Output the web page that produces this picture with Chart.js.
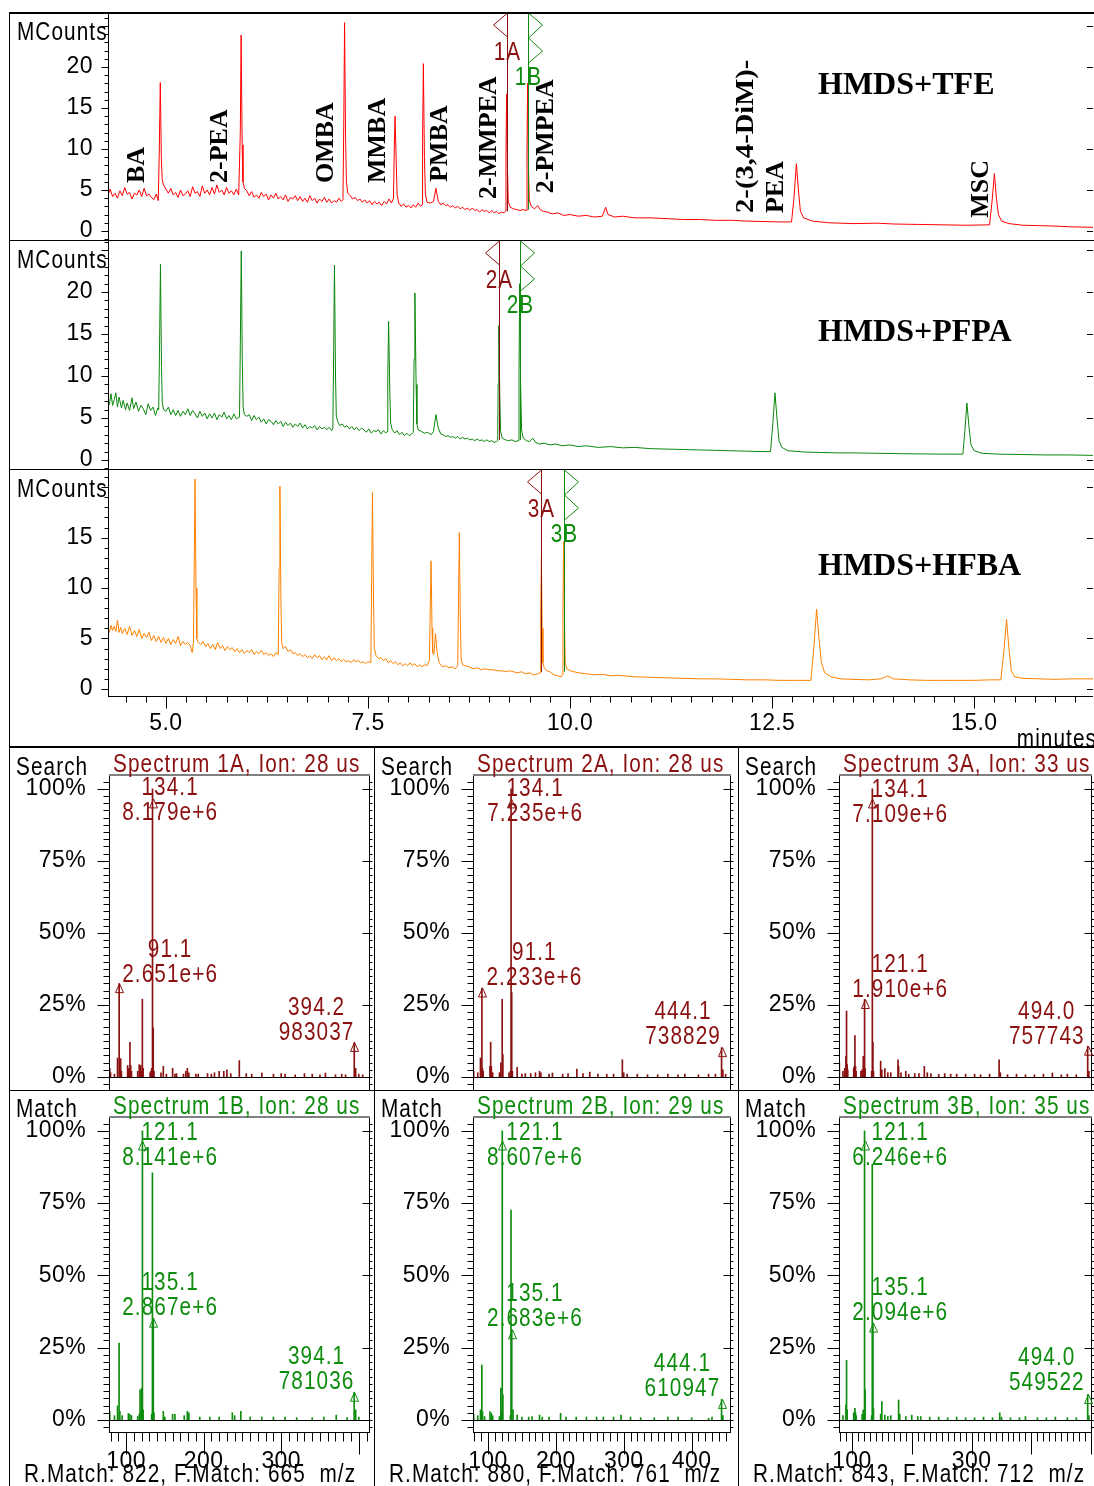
<!DOCTYPE html>
<html>
<head>
<meta charset="utf-8">
<title>HMDS derivatives - chromatograms and spectra</title>
<script src="https://cdn.jsdelivr.net/npm/chart.js@4.4.1/dist/chart.umd.min.js"></script>
<style>
  html, body { margin: 0; padding: 0; background: #fff; overflow: hidden; }
  #lienzo { position: relative; width: 1094px; height: 1486px; }
  #lienzo canvas { position: absolute; left: 0; top: 0; }
  .raya { position: absolute; background: #000; }
</style>
</head>
<body>
<div id="lienzo"></div>
<script>
const PAGE_W = 1094;
const PAGE_H = 1486;
const SANS = '"Liberation Sans", Arial, sans-serif';
const SERIF = '"Liberation Serif", "DejaVu Serif", serif';
const DARK_RED = '#8b1010';
const DARK_GREEN = '#0e8c0e';

// ---- chromatograms: [minutes, MCounts] ----
const timeMin = 4.283;
const timeMax = 16.47;
const timeTicks = [5.0, 7.5, 10.0, 12.5, 15.0];

const tfeTrace = [
  [4.28,4.3],[4.31,5.1],[4.34,4.2],[4.37,4.6],[4.40,4.0],[4.43,4.9],[4.46,4.3],[4.49,5.3],[4.52,4.5],[4.55,4.7],[4.58,3.9],[4.61,4.6],[4.64,4.4],[4.67,5.0],[4.70,4.2],[4.73,5.2],[4.76,4.3],[4.79,4.5],[4.82,4.1],[4.85,3.8],[4.88,4.5],[4.905,3.7],
  [4.917,9.5],[4.93,18.1],[4.943,9.0],[4.953,6.3],[4.97,5.6],[5.00,5.1],
  [5.03,4.6],[5.06,5.2],[5.09,4.4],[5.12,4.7],[5.15,4.1],[5.18,5.0],[5.21,4.3],[5.24,4.5],[5.27,4.9],[5.30,4.2],[5.33,5.4],[5.36,4.6],[5.39,4.8],[5.42,4.2],[5.45,5.5],[5.48,4.6],[5.51,5.0],[5.54,4.4],[5.57,5.3],[5.60,4.5],[5.63,5.6],[5.66,4.7],[5.69,5.0],[5.72,4.4],[5.75,5.3],[5.78,4.6],[5.81,4.9],[5.84,4.4],[5.87,5.1],[5.90,4.4],
  [5.92,12.0],[5.93,23.9],[5.943,10.5],[5.953,6.0],[5.97,5.2],[6.00,4.9],
  [6.03,4.3],[6.06,4.8],[6.09,4.1],[6.12,4.4],[6.15,4.0],[6.18,4.7],[6.21,4.2],[6.24,4.5],[6.27,3.8],[6.30,4.4],[6.33,4.0],[6.36,4.6],[6.39,3.9],[6.42,4.2],[6.45,3.8],[6.48,4.4],[6.51,3.6],[6.54,4.1],[6.57,3.9],[6.60,4.3],[6.63,3.7],[6.66,4.2],[6.69,3.6],[6.72,4.0],[6.75,3.5],[6.78,4.3],[6.81,3.7],[6.84,4.0],[6.87,3.4],[6.90,3.9],[6.93,3.6],[6.96,4.1],[6.99,3.5],[7.02,3.9],[7.05,3.4],[7.08,3.7],[7.11,3.5],[7.14,4.0],[7.17,3.6],[7.19,3.8],
  [7.20,13.0],[7.21,25.4],[7.223,11.0],[7.233,6.0],[7.25,4.6],[7.28,4.3],
  [7.31,3.9],[7.34,4.1],[7.37,3.7],[7.40,3.9],[7.43,3.5],[7.46,3.8],[7.49,3.4],[7.52,3.7],[7.55,3.2],[7.58,3.6],[7.61,3.3],[7.64,3.5],[7.67,3.1],[7.70,3.6],[7.73,3.3],[7.76,3.9],[7.79,3.4],[7.815,4.0],
  [7.825,10.0],[7.835,14.0],[7.85,8.0],[7.86,4.5],[7.88,3.4],[7.91,3.0],[7.94,3.3],[7.97,2.9],[8.00,3.1],[8.03,2.8],[8.06,3.2],[8.09,2.9],[8.12,3.4],[8.15,3.0],[8.17,3.2],
  [8.175,11.0],[8.185,20.4],[8.198,9.0],[8.21,4.5],[8.23,3.5],[8.27,3.4],[8.31,3.6],[8.34,5.2],[8.37,3.6],[8.40,3.2],[8.43,3.4],[8.46,3.1],[8.49,3.2],[8.52,2.9],[8.55,3.1],[8.58,2.8],[8.61,3.0],[8.64,2.7],[8.67,2.9],[8.70,2.6],[8.73,2.8],[8.76,2.5],[8.79,2.8],[8.82,2.5],[8.85,2.6],[8.88,2.3],[8.91,2.6],[8.94,2.4],[8.97,2.5],[9.00,2.2],[9.03,2.5],[9.06,2.2],[9.09,2.4],[9.12,2.1],[9.15,2.3],[9.18,2.2],[9.20,2.4],
  [9.207,9.0],[9.215,16.7],[9.225,8.0],[9.235,3.6],[9.26,2.9],[9.30,2.7],[9.34,2.6],[9.38,2.5],[9.42,2.6],[9.46,2.5],
  [9.467,10.0],[9.475,18.0],[9.485,8.0],[9.495,3.8],[9.52,3.0],[9.56,2.7],[9.60,3.1],[9.63,2.6],[9.67,2.4],[9.72,2.3],[9.78,2.1],[9.85,2.2],[9.92,1.9],[10.0,2.0],[10.1,1.8],[10.2,1.9],[10.3,1.7],[10.4,1.8],[10.44,2.9],[10.47,2.0],[10.55,1.7],[10.65,1.8],[10.8,1.6],[11.0,1.6],[11.2,1.5],[11.4,1.4],[11.6,1.4],[11.8,1.3],[12.0,1.3],[12.2,1.2],[12.4,1.15],[12.6,1.1],[12.74,1.1],
  [12.77,4.0],[12.80,8.2],[12.825,5.0],[12.85,2.4],[12.89,1.6],[13.0,1.2],[13.2,1.0],[13.5,0.9],[13.8,0.95],[14.0,0.85],[14.3,0.8],[14.6,0.75],[14.9,0.7],[15.19,0.75],
  [15.22,3.5],[15.25,7.0],[15.275,4.0],[15.30,2.0],[15.34,1.2],[15.43,0.9],[15.6,0.7],[15.8,0.65],[16.0,0.6],[16.2,0.5],[16.47,0.45]
];

const pfpaTrace = [
  [4.28,7.4],[4.30,6.6],[4.32,7.9],[4.34,6.5],[4.36,7.2],[4.38,8.0],[4.40,6.3],[4.42,7.5],[4.45,6.2],[4.47,7.1],[4.50,6.0],[4.52,6.8],[4.55,5.9],[4.58,7.4],[4.60,6.1],[4.63,6.9],[4.66,5.8],[4.69,6.5],[4.72,6.1],[4.75,5.4],[4.78,6.7],[4.81,5.9],[4.84,6.3],[4.87,5.3],[4.90,6.2],[4.91,6.0],
  [4.92,13.0],[4.932,23.3],[4.945,11.0],[4.955,6.8],[4.97,6.0],[5.00,5.8],
  [5.03,6.3],[5.06,5.4],[5.09,6.0],[5.12,5.3],[5.15,5.9],[5.18,5.2],[5.21,5.8],[5.24,5.4],[5.27,6.1],[5.30,5.3],[5.33,5.9],[5.36,5.5],[5.39,5.0],[5.42,5.8],[5.45,5.2],[5.48,5.6],[5.51,4.9],[5.54,5.5],[5.57,5.0],[5.60,5.6],[5.63,4.8],[5.66,5.4],[5.69,5.1],[5.72,5.7],[5.75,4.9],[5.78,5.3],[5.81,4.8],[5.84,5.5],[5.87,4.9],[5.91,5.1],
  [5.92,13.5],[5.932,24.9],[5.945,11.5],[5.955,6.3],[5.97,5.4],[6.00,5.2],
  [6.03,5.4],[6.06,4.7],[6.09,5.3],[6.12,4.8],[6.15,5.1],[6.18,4.5],[6.21,4.9],[6.24,4.3],[6.27,4.8],[6.30,4.6],[6.33,4.2],[6.36,4.7],[6.39,4.3],[6.42,4.6],[6.45,4.0],[6.48,4.5],[6.51,4.1],[6.54,4.4],[6.57,3.9],[6.60,4.3],[6.63,4.0],[6.66,4.4],[6.69,3.8],[6.72,4.2],[6.75,3.7],[6.78,4.0],[6.81,3.8],[6.84,4.1],[6.87,3.6],[6.90,4.0],[6.93,3.7],[6.96,3.9],[6.99,3.6],[7.02,3.9],[7.05,3.5],[7.065,3.8],
  [7.075,13.0],[7.085,23.2],[7.098,10.0],[7.108,5.2],[7.125,4.6],[7.15,4.1],
  [7.18,4.3],[7.21,3.9],[7.24,4.1],[7.27,3.7],[7.30,4.0],[7.33,3.6],[7.36,3.9],[7.39,3.5],[7.42,3.8],[7.45,3.6],[7.48,3.3],[7.51,3.7],[7.54,3.2],[7.57,3.5],[7.60,3.4],[7.63,3.6],[7.66,3.1],[7.69,3.5],[7.72,3.2],[7.735,3.4],
  [7.745,10.0],[7.755,16.5],[7.77,8.0],[7.78,4.4],[7.80,3.6],[7.83,3.2],[7.86,3.5],[7.89,3.0],[7.92,3.3],[7.95,2.9],[7.98,3.2],[8.01,2.9],[8.04,3.1],[8.06,3.3],
  [8.07,12.0],[8.08,19.9],[8.095,9.0],[8.105,4.3],[8.12,3.6],[8.16,3.4],[8.20,3.2],[8.24,3.3],[8.28,3.0],[8.31,3.4],[8.34,5.4],[8.37,3.8],[8.40,3.1],[8.43,3.0],[8.46,2.8],[8.49,2.9],[8.52,2.7],[8.55,2.8],[8.58,2.6],[8.61,2.8],[8.64,2.5],[8.67,2.7],[8.70,2.5],[8.73,2.6],[8.76,2.4],[8.79,2.5],[8.82,2.3],[8.85,2.5],[8.88,2.3],[8.91,2.4],[8.94,2.2],[8.97,2.4],[9.00,2.2],[9.03,2.3],[9.06,2.1],[9.09,2.2],[9.105,2.3],
  [9.11,9.0],[9.118,16.0],[9.13,8.0],[9.14,3.5],[9.16,2.6],[9.20,2.4],[9.24,2.3],[9.28,2.4],[9.32,2.2],[9.36,2.3],
  [9.368,10.0],[9.377,21.0],[9.388,9.0],[9.40,3.6],[9.42,2.6],[9.46,2.3],[9.50,2.2],[9.54,2.6],[9.57,2.1],[9.62,1.9],[9.68,2.0],[9.75,1.8],[9.82,1.9],[9.90,1.7],[10.0,1.8],[10.1,1.6],[10.2,1.7],[10.35,1.5],[10.5,1.6],[10.65,1.45],[10.8,1.5],[11.0,1.35],[11.2,1.3],[11.4,1.25],[11.6,1.2],[11.8,1.15],[12.0,1.1],[12.2,1.05],[12.4,1.0],[12.48,1.0],
  [12.51,4.5],[12.535,8.0],[12.56,5.0],[12.585,2.3],[12.62,1.5],[12.7,1.1],[12.9,0.95],[13.1,0.9],[13.3,0.85],[13.5,0.85],[13.8,0.8],[14.1,0.75],[14.4,0.72],[14.7,0.7],[14.86,0.7],
  [14.885,3.5],[14.91,6.8],[14.935,4.0],[14.96,1.8],[15.0,1.1],[15.1,0.8],[15.3,0.7],[15.6,0.65],[15.9,0.6],[16.2,0.6],[16.47,0.55]
];

const hfbaTrace = [
  [4.28,6.1],[4.30,5.6],[4.32,6.3],[4.34,5.8],[4.36,6.2],[4.38,5.7],[4.40,6.8],[4.42,5.6],[4.44,6.1],[4.46,5.5],[4.49,6.0],[4.52,5.4],[4.55,6.2],[4.58,5.3],[4.61,5.8],[4.64,5.2],[4.67,5.9],[4.70,5.0],[4.73,5.5],[4.76,5.1],[4.79,5.6],[4.82,4.8],[4.85,5.3],[4.88,4.7],[4.91,5.2],[4.94,4.6],[4.97,5.1],[5.00,4.5],[5.03,5.0],[5.06,4.4],[5.09,4.9],[5.12,4.5],[5.15,5.2],[5.18,4.3],[5.21,4.7],[5.24,4.4],[5.27,4.6],[5.30,4.3],[5.325,3.6],[5.34,4.6],
  [5.35,12.0],[5.36,20.8],[5.372,10.0],[5.382,5.0],[5.40,4.6],[5.43,4.4],
  [5.46,4.7],[5.49,4.2],[5.52,4.5],[5.55,4.0],[5.58,4.4],[5.61,3.9],[5.64,4.6],[5.67,4.0],[5.70,4.3],[5.73,3.8],[5.76,4.2],[5.79,3.9],[5.82,4.1],[5.85,3.7],[5.88,4.0],[5.91,3.6],[5.94,3.9],[5.97,3.5],[6.00,3.8],[6.03,3.6],[6.06,3.9],[6.09,3.4],[6.12,3.7],[6.15,3.5],[6.18,3.8],[6.21,3.4],[6.24,3.6],[6.27,3.3],[6.30,3.5],[6.33,3.2],[6.36,3.6],[6.39,3.4],
  [6.40,12.0],[6.41,20.1],[6.422,9.0],[6.432,4.6],[6.45,4.0],[6.48,4.2],
  [6.51,3.7],[6.54,3.9],[6.57,3.5],[6.60,3.6],[6.63,3.3],[6.66,3.5],[6.69,3.2],[6.72,3.4],[6.75,3.1],[6.78,3.3],[6.81,3.0],[6.84,3.4],[6.87,3.1],[6.90,3.3],[6.93,2.9],[6.96,3.2],[6.99,2.9],[7.02,3.3],[7.05,2.8],[7.08,3.1],[7.11,2.8],[7.14,3.0],[7.17,2.7],[7.20,2.9],[7.23,2.7],[7.26,2.8],[7.29,2.6],[7.32,2.9],[7.35,2.7],[7.38,2.8],[7.41,2.6],[7.44,2.7],[7.47,2.5],[7.50,2.7],[7.535,2.6],
  [7.545,11.0],[7.555,19.5],[7.568,9.0],[7.578,4.0],[7.60,3.3],[7.63,3.0],
  [7.66,3.1],[7.69,2.8],[7.72,3.0],[7.75,2.6],[7.78,2.8],[7.81,2.5],[7.84,2.7],[7.87,2.4],[7.90,2.6],[7.93,2.3],[7.96,2.5],[7.99,2.3],[8.02,2.6],[8.05,2.3],[8.08,2.5],[8.11,2.2],[8.14,2.4],[8.17,2.2],[8.20,2.4],[8.23,2.3],[8.26,2.8],
  [8.27,8.0],[8.28,12.7],[8.292,6.0],[8.30,3.6],[8.315,3.4],[8.335,5.5],[8.355,3.6],[8.38,2.6],[8.42,2.2],[8.46,2.3],[8.50,2.1],[8.54,2.2],[8.58,2.0],[8.61,2.3],
  [8.62,9.0],[8.63,15.5],[8.642,7.0],[8.652,3.0],[8.67,2.4],[8.70,2.3],
  [8.75,2.2],[8.80,2.0],[8.85,2.1],[8.90,1.9],[8.95,2.0],[9.00,1.9],[9.05,1.9],[9.10,1.8],[9.15,1.8],[9.20,1.7],[9.25,1.8],[9.30,1.7],[9.35,1.6],[9.40,1.7],[9.45,1.5],[9.50,1.6],[9.55,1.4],[9.60,1.5],[9.63,1.6],
  [9.637,8.0],[9.645,13.1],[9.655,6.0],[9.665,2.6],[9.68,2.1],[9.71,1.8],[9.75,1.7],[9.80,1.4],[9.85,1.3],[9.89,1.2],[9.905,1.4],
  [9.912,8.0],[9.92,14.6],[9.93,7.0],[9.94,2.6],[9.96,2.0],[10.0,1.8],[10.05,1.7],[10.1,1.6],[10.2,1.5],[10.3,1.4],[10.4,1.45],[10.5,1.3],[10.6,1.35],[10.8,1.2],[11.0,1.15],[11.2,1.1],[11.4,1.05],[11.6,1.0],[11.8,1.0],[12.0,0.95],[12.2,0.9],[12.4,0.9],[12.6,0.85],[12.8,0.85],[12.98,0.85],
  [13.02,4.5],[13.05,7.9],[13.08,5.0],[13.11,2.6],[13.15,1.6],[13.23,1.2],[13.35,1.0],[13.5,0.95],[13.7,0.9],[13.85,1.0],[13.93,1.3],[14.0,1.0],[14.2,0.9],[14.4,0.85],[14.6,0.85],[14.8,0.85],[15.0,0.85],[15.2,0.9],[15.33,0.9],
  [15.37,4.0],[15.40,6.9],[15.43,4.0],[15.46,1.8],[15.50,1.2],[15.6,1.05],[15.8,1.0],[16.0,0.95],[16.2,1.0],[16.47,1.0]
];

// compound names on the TFE trace (text starts at t, v and reads upward)
const tfeNames = [
  { text: 'BA', t: 4.64, v: 5.85 },
  { text: '2-PEA', t: 5.67, v: 5.85 },
  { text: 'OMBA', t: 6.98, v: 5.85 },
  { text: 'MMBA', t: 7.63, v: 5.85 },
  { text: 'PMBA', t: 8.39, v: 6.0 },
  { text: '2-MMPEA', t: 9.005, v: 3.9 },
  { text: '2-PMPEA', t: 9.71, v: 4.6 },
  { text: '2-(3,4-DiM)-', t: 12.18, v: 2.2 },
  { text: 'PEA', t: 12.55, v: 2.2 },
  { text: 'MSC', t: 15.09, v: 1.6 }
];
// this one is set a little wider in the original
const nameStretch = { '2-(3,4-DiM)-': 1.1 };

// spectrum markers on the chromatograms
const tfeMarkers = [{ tag: '1A', t: 9.215, base: 2.4, kind: 'A' }, { tag: '1B', t: 9.475, base: 2.6, kind: 'B' }];
const pfpaMarkers = [{ tag: '2A', t: 9.118, base: 2.4, kind: 'A' }, { tag: '2B', t: 9.377, base: 2.4, kind: 'B' }];
const hfbaMarkers = [{ tag: '3A', t: 9.645, base: 1.7, kind: 'A' }, { tag: '3B', t: 9.92, base: 1.7, kind: 'B' }];

// ---- mass spectra: [m/z, % of base peak] ----
const spec1A = [[78,23],[79,3],[80,1.5],[85,1],[89,6.6],[91.1,32.4],[92,3.5],[93,6.4],[94,2],[102,4],[103,3],[104,2.5],[105,12],[106,4],[107,2],[115,2],[117,4.3],[118,2.5],[119,4],[120,2],[121,27],[122,3],[131,1.5],[132,2],[133,3],[134.1,100],[135,17],[136,2],[145,1.5],[148,3.7],[152,1],[160,3],[163,1],[165,1.2],[174,1],[177,2],[179,3],[181,1.5],[190,1],[193,1],[205,1.2],[210,1],[214,1.5],[220,2],[226,2],[230,2.5],[235,1.2],[246,5.7],[255,1.2],[262,1],[275,1.4],[290,1],[300,1.2],[305,1],[318,0.8],[330,1.2],[340,1],[350,0.8],[357,1.4],[370,0.8],[378,1],[383,0.8],[394.2,12.0],[396,3],[400,1],[405,0.8]];
const spec2A = [[78,11.9],[79,2],[85,1.5],[89,6.6],[91.1,30.9],[92,3],[93,2],[103,3.7],[104,12.1],[105,3.7],[107,1.5],[117,1.5],[119,4.9],[121,27],[122,7.8],[131,1.5],[133,2],[134.1,100],[135,29.3],[136,2],[143,3.4],[150,1],[155,1.2],[163,1.2],[170,1.5],[176,2],[178,1.5],[190,1],[195,1.4],[210,1],[218,1.2],[231,2.8],[240,1.2],[250,1.7],[262,1],[275,1],[285,1],[298,6],[300,1.5],[305,1],[320,1],[335,0.8],[350,0.8],[365,1],[380,0.8],[390,1],[410,0.8],[425,1],[435,1],[444.1,10.2],[446,2.5],[450,1]];
const spec3A = [[78,10.7],[79,4.9],[85,2],[88,3],[90,7.2],[91,22.9],[92,4.3],[93,2.5],[103,3],[104,3.7],[105,14.4],[106,3.7],[107,2],[115,2],[117,2.5],[119,7.2],[121.1,26.9],[122,3],[133,2],[134.1,100],[135,12],[136,2],[148,5.5],[150,2.5],[155,2.9],[160,1.5],[165,1.5],[177,6],[178,3.7],[182,1.5],[190,2],[195,1],[205,1.2],[212,1.2],[221,3.7],[226,1.5],[232,1.2],[245,1],[255,1.2],[265,1],[275,1],[290,1],[305,1],[315,0.8],[330,1],[346,6],[348,1.5],[360,0.8],[375,1],[390,0.8],[405,0.8],[420,1],[435,1.4],[450,0.8],[460,1],[475,0.8],[494,10.7],[496,2]];
const spec1B = [[78,11.6],[79,3],[85,1.5],[89,4.9],[91,26.6],[92,3],[95,1.5],[103,2.3],[105,2],[107,1.5],[115,1.2],[117,2],[118,10.4],[119,3],[120,11],[121.1,100],[122,3.5],[133,2],[134,85.5],[135.1,35.2],[136,2.5],[148,3],[150,1],[160,2],[163,2],[175,1.5],[179,3],[181,2.5],[195,1],[208,1],[220,1],[237,2.5],[240,1.5],[248,3],[260,1],[275,1],[290,1],[305,1],[320,0.8],[340,0.8],[355,1],[371,1.7],[385,0.8],[394.1,9.6],[396,3.5],[400,1]];
const spec2B = [[78,12.1],[79,2],[85,1.5],[89,3.5],[91,19],[92,2.9],[95,1.2],[103,2.9],[105,2.3],[107,1.5],[117,1.2],[119,11],[120,3],[121.1,100],[122,8.7],[133,1.5],[134,72.6],[135.1,31.2],[137,3.5],[143,1.7],[150,1],[160,1],[165,1.2],[176,1.7],[180,1],[190,1],[207,2.3],[215,1],[230,1],[245,1],[260,1],[270,1],[285,1],[296,1.7],[310,1],[325,0.8],[345,0.8],[365,1],[380,1],[400,0.8],[425,0.6],[430,1],[444.1,7.1],[446,1.5]];
const spec3B = [[78,10.4],[79,5.2],[85,1.5],[90,5.2],[91,20.6],[92,3.5],[103,2.5],[105,4],[106,2.5],[107,1.5],[117,2],[119,3.5],[121.1,100],[122,10.4],[133,1.5],[134,88.4],[135.1,33.5],[136,4],[148,2],[150,6.4],[155,1.7],[160,1.2],[165,1.5],[178,6.9],[180,2],[190,1.2],[200,1.7],[210,1.2],[215,1.2],[230,1],[245,1],[260,0.8],[275,1],[290,0.8],[305,0.8],[320,1],[335,0.8],[347,2.5],[350,1],[365,0.8],[380,0.8],[390,1.2],[410,0.8],[425,0.8],[440,1],[460,0.8],[475,0.8],[494,8.8],[496,1.5]];

// labelled peaks: arrow at mz/pct, two text lines centred at lx (m/z), ly (%)
const notes1A = [
  { mz: 134.1, pct: 100, lines: ['134.1', '8.179e+6'], lx: 156.8, ly: 100.3 },
  { mz: 91.1, pct: 32.4, lines: ['91.1', '2.651e+6'], lx: 156.8, ly: 44.1 },
  { mz: 394.2, pct: 12.0, lines: ['394.2', '983037'], lx: 345.6, ly: 23.9 }
];
const notes2A = [
  { mz: 134.1, pct: 100, lines: ['134.1', '7.235e+6'], lx: 169.5, ly: 99.8 },
  { mz: 91.1, pct: 30.9, lines: ['91.1', '2.233e+6'], lx: 168.4, ly: 42.9 },
  { mz: 444.1, pct: 10.2, lines: ['444.1', '738829'], lx: 387.4, ly: 22.7 }
];
const notes3A = [
  { mz: 134.1, pct: 100, lines: ['134.1', '7.109e+6'], lx: 180.7, ly: 99.6 },
  { mz: 121.1, pct: 26.9, lines: ['121.1', '1.910e+6'], lx: 180.7, ly: 38.9 },
  { mz: 494.0, pct: 10.7, lines: ['494.0', '757743'], lx: 425.6, ly: 22.7 }
];
const notes1B = [
  { mz: 121.1, pct: 100, lines: ['121.1', '8.141e+6'], lx: 156.8, ly: 99.3 },
  { mz: 135.1, pct: 35.2, lines: ['135.1', '2.867e+6'], lx: 156.8, ly: 47.4 },
  { mz: 394.1, pct: 9.6, lines: ['394.1', '781036'], lx: 345.6, ly: 21.8 }
];
const notes2B = [
  { mz: 121.1, pct: 100, lines: ['121.1', '8.607e+6'], lx: 169.2, ly: 99.2 },
  { mz: 135.1, pct: 31.2, lines: ['135.1', '2.683e+6'], lx: 169.2, ly: 43.6 },
  { mz: 444.1, pct: 7.1, lines: ['444.1', '610947'], lx: 386.5, ly: 19.4 }
];
const notes3B = [
  { mz: 121.1, pct: 100, lines: ['121.1', '6.246e+6'], lx: 180.7, ly: 99.3 },
  { mz: 135.1, pct: 33.5, lines: ['135.1', '2.094e+6'], lx: 180.7, ly: 45.7 },
  { mz: 494.0, pct: 8.8, lines: ['494.0', '549522'], lx: 425.6, ly: 21.4 }
];

const pctTicks = [0, 25, 50, 75, 100];
const mzTickLabels = [[100, 200, 300], [100, 200, 300, 400], [100, 300]];
const mzRanges = [[78, 414.5], [78, 458], [78.4, 501.2]];
const matchTexts = ['R.Match: 822, F.Match: 665  m/z', 'R.Match: 880, F.Match: 761  m/z', 'R.Match: 843, F.Match: 712  m/z'];

// ---- layout ----
const chromPanels = [
  { trace: tfeTrace, color: '#ff0000', title: 'HMDS+TFE', titleY: 86, box: [108, 12, 1093, 240], yMin: -1.1, yMax: 26.7, yMajor: [0, 5, 10, 15, 20, 25], yLabels: [0, 5, 10, 15, 20], names: tfeNames, markers: tfeMarkers, showX: false },
  { trace: pfpaTrace, color: '#0a870a', title: 'HMDS+PFPA', titleY: 333, box: [108, 240, 1093, 469], yMin: -1.07, yMax: 26.2, yMajor: [0, 5, 10, 15, 20, 25], yLabels: [0, 5, 10, 15, 20], names: [], markers: pfpaMarkers, showX: false },
  { trace: hfbaTrace, color: '#ff8000', title: 'HMDS+HFBA', titleY: 567, box: [108, 469, 1093, 697], yMin: -0.8, yMax: 21.8, yMajor: [0, 5, 10, 15, 20], yLabels: [0, 5, 10, 15], names: [], markers: hfbaMarkers, showX: true }
];

const specCols = [[109, 370], [473, 731], [839, 1092]];
const specFrames = [9, 374, 738];
const specRows = [[775, 1090], [1117, 1433]];

const spectra = [
  { peaks: spec1A, notes: notes1A, col: 0, row: 0, color: DARK_RED, title: 'Spectrum 1A, Ion: 28 us' },
  { peaks: spec2A, notes: notes2A, col: 1, row: 0, color: DARK_RED, title: 'Spectrum 2A, Ion: 28 us' },
  { peaks: spec3A, notes: notes3A, col: 2, row: 0, color: DARK_RED, title: 'Spectrum 3A, Ion: 33 us' },
  { peaks: spec1B, notes: notes1B, col: 0, row: 1, color: DARK_GREEN, title: 'Spectrum 1B, Ion: 28 us' },
  { peaks: spec2B, notes: notes2B, col: 1, row: 1, color: DARK_GREEN, title: 'Spectrum 2B, Ion: 29 us' },
  { peaks: spec3B, notes: notes3B, col: 2, row: 1, color: DARK_GREEN, title: 'Spectrum 3B, Ion: 35 us' }
];

const frameLines = [
  [9, 12, 1085, 2], [9, 12, 1, 1474], [9, 240, 1085, 1], [9, 469, 1085, 1],
  [9, 746, 1085, 2], [9, 1090, 1085, 1], [374, 746, 1, 740], [738, 746, 1, 740]
];

const AXIS_W = 100;   // room kept for the y tick labels
const AXIS_H = 45;    // room kept for the x tick labels

// ---- helpers ----
const lienzo = document.getElementById('lienzo');

function newCanvas() {
  const c = document.createElement('canvas');
  c.width = PAGE_W;
  c.height = PAGE_H;
  lienzo.appendChild(c);
  return c;
}

function drawLine(ctx, x1, y1, x2, y2) {
  ctx.beginPath();
  ctx.moveTo(x1, y1);
  ctx.lineTo(x2, y2);
  ctx.stroke();
}

// condensed sans text, like the instrument software
function narrowText(ctx, s, x, y, color, align) {
  ctx.save();
  ctx.font = '25px ' + SANS;
  ctx.letterSpacing = '1.3px';
  ctx.fillStyle = color;
  ctx.textAlign = align || 'left';
  ctx.textBaseline = 'middle';
  ctx.translate(x, y);
  ctx.scale(0.83, 1);
  ctx.fillText(s, 0, 0);
  ctx.restore();
}

function serifText(ctx, s, x, y, size, stretch) {
  ctx.save();
  ctx.font = 'bold ' + size + 'px ' + SERIF;
  ctx.letterSpacing = '0px';
  ctx.fillStyle = '#000';
  ctx.textAlign = 'left';
  ctx.textBaseline = 'middle';
  ctx.translate(x, y);
  ctx.scale(stretch || 1, 1);
  ctx.fillText(s, 0, 0);
  ctx.restore();
}

const letterSpacing = {
  id: 'letterSpacing',
  beforeDraw(chart) { chart.ctx.letterSpacing = '0.4px'; }
};

const labelFont = { family: SANS, size: 23 };

function fixWidth(w) {
  return sc => { sc.width = w; sc.paddingTop = 0; sc.paddingBottom = 0; sc.paddingLeft = 0; sc.paddingRight = 0; };
}
function fixHeight(h) {
  return sc => { sc.height = h; sc.paddingTop = 0; sc.paddingBottom = 0; sc.paddingLeft = 0; sc.paddingRight = 0; };
}

// axes, markers, names and title of one chromatogram
function chromDecor(p) {
  return {
    id: 'chromDecor',
    afterDatasetsDraw(chart) {
      const ctx = chart.ctx, a = chart.chartArea, x = chart.scales.x, y = chart.scales.y;
      ctx.save();
      ctx.strokeStyle = '#000';
      ctx.lineWidth = 1;
      const left = Math.round(a.left) + 0.5;
      drawLine(ctx, left, a.top, left, a.bottom);
      for (let v = Math.ceil(p.yMin); v <= p.yMax; v++) {
        const py = Math.round(y.getPixelForValue(v)) + 0.5;
        drawLine(ctx, left - (v % 5 === 0 ? 7 : 4), py, left, py);
        if (v % 5 === 0) drawLine(ctx, a.right - 6, py, a.right, py);
      }
      if (p.showX) {
        const bottom = Math.round(a.bottom) - 0.5;
        drawLine(ctx, a.left, bottom, a.right, bottom);
        for (let k = 18; k * 0.25 <= timeMax; k++) {
          const px = Math.round(x.getPixelForValue(k * 0.25)) + 0.5;
          drawLine(ctx, px, bottom, px, bottom + (k % 10 === 0 ? 12 : 6));
        }
        narrowText(ctx, 'minutes', 1097, a.bottom + 43, '#000', 'right');
      }
      narrowText(ctx, 'MCounts', 17, a.top + 21, '#000', 'left');

      // spectrum markers
      p.markers.forEach(m => {
        const px = Math.round(x.getPixelForValue(m.t)) + 0.5;
        const col = m.kind === 'A' ? DARK_RED : DARK_GREEN;
        ctx.strokeStyle = col;
        drawLine(ctx, px, a.top, px, y.getPixelForValue(m.base));
        ctx.beginPath();
        if (m.kind === 'A') {
          ctx.moveTo(px, a.top + 1); ctx.lineTo(px - 14, a.top + 13); ctx.lineTo(px, a.top + 25);
        } else {
          ctx.moveTo(px, a.top + 1); ctx.lineTo(px + 14, a.top + 13); ctx.lineTo(px, a.top + 26);
          ctx.lineTo(px + 14, a.top + 39); ctx.lineTo(px, a.top + 51);
        }
        ctx.stroke();
        narrowText(ctx, m.tag, px, a.top + (m.kind === 'A' ? 41 : 66), col, 'center');
      });

      // compound names
      p.names.forEach(n => {
        ctx.save();
        ctx.translate(x.getPixelForValue(n.t), y.getPixelForValue(n.v));
        ctx.rotate(-Math.PI / 2);
        serifText(ctx, n.text, 0, 0, 26, nameStretch[n.text]);
        ctx.restore();
      });
      serifText(ctx, p.title, 818, p.titleY, 32);
      ctx.restore();
    }
  };
}

// frame, ticks, arrows and labels of one spectrum
function specDecor(s) {
  return {
    id: 'specDecor',
    afterDatasetsDraw(chart) {
      const ctx = chart.ctx, a = chart.chartArea, x = chart.scales.x, y = chart.scales.y;
      ctx.save();
      ctx.lineWidth = 1;
      ctx.strokeStyle = '#000';
      const left = Math.round(a.left) + 0.5;
      const right = Math.round(a.right) - 0.5;
      drawLine(ctx, left, a.top, left, a.bottom);
      drawLine(ctx, right, a.top, right, a.bottom);
      const y0 = Math.round(y.getPixelForValue(0)) + 0.5;
      drawLine(ctx, a.left, y0, a.right, y0);
      for (let k = -1; k * 2.5 <= 104; k++) {
        const py = Math.round(y.getPixelForValue(k * 2.5)) + 0.5;
        const major = k >= 0 && k % 10 === 0;
        drawLine(ctx, left - (major ? 12 : 6), py, left, py);
        drawLine(ctx, major ? right - 7 : right, py, right + 3, py);
      }
      if (s.row === 1) {
        const bottom = Math.round(a.bottom) - 0.5;
        drawLine(ctx, a.left, bottom, a.right, bottom);
        const range = mzRanges[s.col];
        for (let m = Math.ceil(range[0] / 10) * 10; m <= range[1]; m += 10) {
          const px = Math.round(x.getPixelForValue(m)) + 0.5;
          drawLine(ctx, px, bottom, px, bottom + (m % 100 === 0 ? 22 : 9));
        }
        narrowText(ctx, matchTexts[s.col], specFrames[s.col] + 15, 1475, '#000', 'left');
      }
      ctx.strokeStyle = '#808080';
      ctx.lineWidth = 2;
      drawLine(ctx, a.left, a.top, a.right, a.top);

      // arrows and peak labels
      ctx.strokeStyle = s.color;
      ctx.lineWidth = 1;
      s.notes.forEach(n => {
        const px = Math.round(x.getPixelForValue(n.mz)) + 0.5;
        const py = y.getPixelForValue(Math.min(n.pct, 96.5));
        ctx.beginPath();
        ctx.moveTo(px, py);
        ctx.lineTo(px - 4, py + 9);
        ctx.lineTo(px + 4, py + 9);
        ctx.closePath();
        ctx.stroke();
        const lx = x.getPixelForValue(n.lx), ly = y.getPixelForValue(n.ly);
        narrowText(ctx, n.lines[0], lx, ly, s.color, 'center');
        narrowText(ctx, n.lines[1], lx, ly + 25, s.color, 'center');
      });

      narrowText(ctx, s.title, a.left + 4, a.top - 10, s.color, 'left');
      narrowText(ctx, s.row === 0 ? 'Search' : 'Match', specFrames[s.col] + 7, a.top - 7, '#000', 'left');
      ctx.restore();
    }
  };
}

// ---- charts ----
chromPanels.forEach(p => {
  const [L, T, R, B] = p.box;
  const xH = p.showX ? AXIS_H : 0;
  new Chart(newCanvas(), {
    type: 'line',
    data: {
      datasets: [{
        data: p.trace.map(([t, v]) => ({ x: t, y: v })),
        borderColor: p.color, borderWidth: 1, pointRadius: 0, tension: 0, fill: false
      }]
    },
    options: {
      responsive: false, animation: false, events: [],
      layout: { padding: { left: L - AXIS_W, top: T, right: PAGE_W - R, bottom: PAGE_H - B - xH } },
      plugins: { legend: { display: false }, tooltip: { enabled: false } },
      scales: {
        x: {
          type: 'linear', min: timeMin, max: timeMax, display: p.showX,
          afterFit: fixHeight(xH),
          afterBuildTicks: sc => { sc.ticks = timeTicks.map(v => ({ value: v })); },
          grid: { display: false }, border: { display: false },
          ticks: { autoSkip: false, maxRotation: 0, padding: 5, color: '#000', font: labelFont, callback: v => v.toFixed(1) }
        },
        y: {
          type: 'linear', min: p.yMin, max: p.yMax,
          afterFit: fixWidth(AXIS_W),
          afterBuildTicks: sc => { sc.ticks = p.yMajor.map(v => ({ value: v })); },
          grid: { display: false }, border: { display: false },
          ticks: { autoSkip: false, padding: 7, color: '#000', font: labelFont, callback: v => p.yLabels.includes(v) ? String(v) : '' }
        }
      }
    },
    plugins: [letterSpacing, chromDecor(p)]
  });
});

spectra.forEach(s => {
  const [L, R] = specCols[s.col];
  const [T, B] = specRows[s.row];
  const range = mzRanges[s.col];
  const xH = s.row === 1 ? AXIS_H : 0;
  new Chart(newCanvas(), {
    type: 'bar',
    data: {
      datasets: [{
        data: s.peaks.map(([m, v]) => ({ x: m, y: v })),
        backgroundColor: s.color, barThickness: 1, grouped: false
      }]
    },
    options: {
      responsive: false, animation: false, events: [],
      layout: { padding: { left: L - AXIS_W, top: T, right: PAGE_W - R, bottom: PAGE_H - B - xH } },
      plugins: { legend: { display: false }, tooltip: { enabled: false } },
      scales: {
        x: {
          type: 'linear', offset: false, min: range[0], max: range[1], display: s.row === 1,
          afterFit: fixHeight(xH),
          afterBuildTicks: sc => { sc.ticks = mzTickLabels[s.col].map(v => ({ value: v })); },
          grid: { display: false }, border: { display: false },
          ticks: { autoSkip: false, maxRotation: 0, padding: 7, color: '#000', font: labelFont }
        },
        y: {
          type: 'linear', min: -4.5, max: 104.8,
          afterFit: fixWidth(AXIS_W),
          afterBuildTicks: sc => { sc.ticks = pctTicks.map(v => ({ value: v })); },
          grid: { display: false }, border: { display: false },
          ticks: { autoSkip: false, padding: 15, color: '#000', font: labelFont, callback: v => v + '%' }
        }
      }
    },
    plugins: [letterSpacing, specDecor(s)]
  });
});

// panel frame
frameLines.forEach(([x, y, w, h]) => {
  const d = document.createElement('div');
  d.className = 'raya';
  d.style.left = x + 'px';
  d.style.top = y + 'px';
  d.style.width = w + 'px';
  d.style.height = h + 'px';
  lienzo.appendChild(d);
});
</script>
</body>
</html>
